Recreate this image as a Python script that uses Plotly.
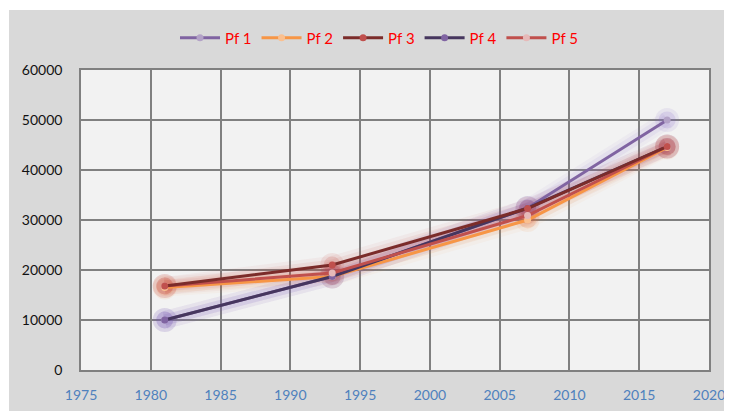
import plotly.graph_objects as go

years = [1981, 1993, 2007, 2017]
series_names = ["Pf 1", "Pf 2", "Pf 3", "Pf 4", "Pf 5"]
pf1 = [10000, 18700, 32400, 50000]
pf2 = [16500, 18700, 30000, 44500]
pf3 = [16800, 21000, 32300, 44700]
pf4 = [10000, 18700, 32400, 44700]
pf5 = [16800, 19400, 30900, 44700]
values = [pf1, pf2, pf3, pf4, pf5]

line_colors = ["#8064A2", "#F79646", "#7B2C2A", "#46365E", "#C0504D"]
marker_colors = ["#B3A2C7", "#FAC090", "#C0504D", "#8064A2", "#E6B9B8"]
glow_colors = ["rgba(128,100,200,{a})", "rgba(247,150,70,{a})", "rgba(192,60,50,{a})",
               "rgba(110,80,170,{a})", "rgba(200,70,60,{a})"]

x_ticks = [1975, 1980, 1985, 1990, 1995, 2000, 2005, 2010, 2015, 2020]
y_ticks = [0, 10000, 20000, 30000, 40000, 50000, 60000]

fig = go.Figure()

# glow halos
for vals, gc in zip(values, glow_colors):
    for w, a, ms in [(18, 0.05, 24), (11, 0.08, 17)]:
        fig.add_trace(go.Scatter(
            x=years, y=vals, mode="lines+markers", showlegend=False, hoverinfo="skip",
            line=dict(color=gc.format(a=a), width=w),
            marker=dict(size=ms, color=gc.format(a=a * 2)),
        ))

order = [0, 1, 3, 4, 2]
for i in order:
    fig.add_trace(go.Scatter(
        x=years, y=values[i], mode="lines+markers", name=series_names[i],
        line=dict(color=line_colors[i], width=3),
        marker=dict(size=7, color=marker_colors[i], line=dict(width=0)),
        legendrank=i + 1,
    ))

# page body has an 8px margin: figure sits at (8, 8) in the window
OFF = 8
W, H = 732 - OFF, 411 - OFF
L, R, T, B = 81 - OFF, 732 - 709, 70 - OFF, 411 - 370
pw, ph = W - L - R, H - T - B

fig.update_layout(
    width=W, height=H,
    margin=dict(l=L, r=R, t=T, b=B, autoexpand=False),
    paper_bgcolor="#D9D9D9",
    plot_bgcolor="#F2F2F2",
    font=dict(family="Lato, Open Sans, sans-serif"),
    showlegend=True,
    legend=dict(
        orientation="h", x=0.5 - 16 / pw, xanchor="center", y=1 + (T - (38 - OFF)) / ph, yanchor="middle",
        font=dict(color="#FF0000", size=15), bgcolor="rgba(0,0,0,0)",
        itemwidth=40, tracegroupgap=0,
    ),
    xaxis=dict(
        range=[1975, 2020], tickvals=x_ticks, ticktext=[str(t) for t in x_ticks],
        showgrid=True, gridcolor="#808080", gridwidth=1.5,
        tickfont=dict(color="#4F81BD", size=14), ticks="", zeroline=False,
        showline=True, linecolor="#808080", linewidth=1.5, mirror=True,
        ticklabelstandoff=11,
    ),
    yaxis=dict(
        range=[0, 60000], tickvals=y_ticks, ticktext=[str(t) for t in y_ticks],
        showgrid=True, gridcolor="#808080", gridwidth=1.5,
        tickfont=dict(color="#111111", size=14), ticks="", zeroline=False,
        showline=True, linecolor="#808080", linewidth=1.5, mirror=True,
        ticklabelstandoff=14,
    ),
    shapes=[
        dict(type="rect", xref="paper", yref="paper",
             x0=(-5 - L) / pw, x1=(1 - L) / pw, y0=(-5 - B) / ph, y1=(H + 5 - B) / ph,
             fillcolor="white", line=dict(width=0), layer="below"),
        dict(type="rect", xref="paper", yref="paper",
             x0=(-5 - L) / pw, x1=(W + 5 - L) / pw, y0=(H - 2 - B) / ph, y1=(H + 5 - B) / ph,
             fillcolor="white", line=dict(width=0), layer="below"),
    ],
)

fig.write_html("out.html")
